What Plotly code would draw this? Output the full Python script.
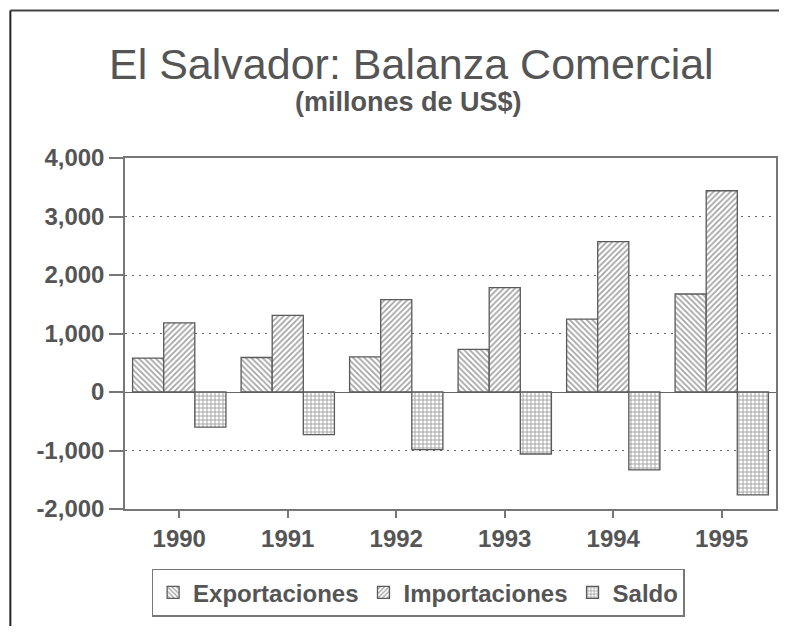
import plotly.graph_objects as go

years = ["1990", "1991", "1992", "1993", "1994", "1995"]
exportaciones = [580, 590, 600, 730, 1245, 1675]
importaciones = [1180, 1310, 1580, 1785, 2570, 3440]
saldo = [-600, -730, -985, -1060, -1330, -1760]
y_ticks = [-2000, -1000, 0, 1000, 2000, 3000, 4000]
y_tick_labels = ["-2,000", "-1,000", "0", "1,000", "2,000", "3,000", "4,000"]

# page body has an 8px margin, so work in screen pixels minus 8
OFF = 8
W, H = 787 - OFF, 634 - 2 * OFF
L, R, T, B = 125 - OFF, 778 - OFF, 158 - OFF, 510 - OFF
GREY = "#555555"
FONT = "Liberation Sans, Arial, sans-serif"

def px_x(px):
    return (px - OFF - L) / (R - L)

def px_y(py):
    return (B - (py - OFF)) / (B - T)

fig = go.Figure()
for name, vals, shape in [("Exportaciones", exportaciones, "\\"),
                          ("Importaciones", importaciones, "/"),
                          ("Saldo", saldo, "+")]:
    fig.add_trace(go.Bar(
        x=years, y=vals, name=name,
        marker=dict(color="white",
                    line=dict(color="#5a5a5a", width=1.3),
                    pattern=dict(shape=shape, fgcolor="#444444", bgcolor="white",
                                 size=4, solidity=0.42)),
    ))

fig.update_layout(
    width=W, height=H,
    margin=dict(l=L, r=W - R, t=T, b=H - B),
    paper_bgcolor="white", plot_bgcolor="white",
    barmode="group", bargap=0.14, bargroupgap=0,
    font=dict(family=FONT, color=GREY),
    showlegend=True,
    legend=dict(orientation="h", x=px_x(419), xanchor="center",
                y=px_y(570), yanchor="top",
                bordercolor="#777777", borderwidth=1.5,
                font=dict(size=24, family=FONT, weight="bold", color=GREY),
                itemwidth=30, tracegroupgap=0),
    xaxis=dict(showline=True, linecolor="#777777", linewidth=1.5, mirror=True,
               ticks="outside", ticklen=7, tickcolor="#777777", tickwidth=1.5,
               tickfont=dict(size=24, family=FONT, weight="bold", color=GREY),
               showgrid=False),
    yaxis=dict(range=[-2000, 4000], tickvals=y_ticks, ticktext=y_tick_labels,
               showline=True, linecolor="#777777", linewidth=1.5, mirror=True,
               ticks="outside", ticklen=14, tickcolor="#777777", tickwidth=1.5,
               tickfont=dict(size=24, family=FONT, weight="bold", color=GREY),
               showgrid=True, gridcolor="#666666", gridwidth=1, griddash="2px,5px",
               zeroline=True, zerolinecolor="#666666", zerolinewidth=1.2),
    annotations=[
        dict(text="El Salvador: Balanza Comercial", xref="paper", yref="paper",
             x=px_x(412), y=px_y(64), xanchor="center", yanchor="middle",
             showarrow=False, font=dict(size=43, family=FONT, color=GREY)),
        dict(text="(millones de US$)", xref="paper", yref="paper",
             x=px_x(409), y=px_y(102), xanchor="center", yanchor="middle",
             showarrow=False, font=dict(size=27, family=FONT, weight="bold", color=GREY)),
    ],
    shapes=[
        dict(type="line", xref="paper", yref="paper", x0=px_x(10), x1=px_x(795),
             y0=px_y(10), y1=px_y(10), line=dict(color="#444444", width=2)),
        dict(type="line", xref="paper", yref="paper", x0=px_x(10), x1=px_x(10),
             y0=px_y(10), y1=px_y(634), line=dict(color="#222222", width=2)),
    ],
)

fig.write_html("out.html")
